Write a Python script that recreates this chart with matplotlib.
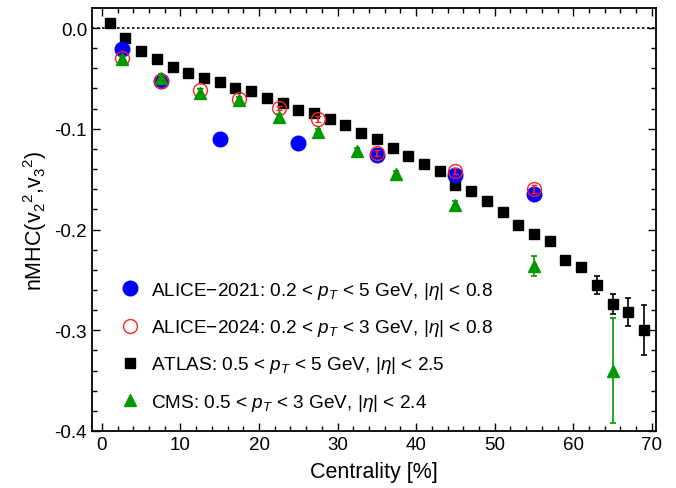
import matplotlib
matplotlib.use('Agg')
import matplotlib.pyplot as plt
from matplotlib.ticker import MultipleLocator, FormatStrFormatter
from matplotlib.lines import Line2D

plt.rcParams['font.family'] = ['Liberation Sans', 'DejaVu Sans']
plt.rcParams['mathtext.fontset'] = 'custom'
plt.rcParams['mathtext.rm'] = 'Liberation Sans'
plt.rcParams['mathtext.it'] = 'Liberation Sans:italic'

# dane
atlas_x = [1, 3, 5, 7, 9, 11, 13, 15, 17, 19, 21, 23, 25, 27, 29, 31, 33, 35,
           37, 39, 41, 43, 45, 47, 49, 51, 53, 55, 57, 59, 61, 63, 65, 67, 69]
atlas_y = [0.005, -0.010, -0.023, -0.031, -0.039, -0.045, -0.050, -0.054, -0.060,
           -0.063, -0.069, -0.074, -0.081, -0.084, -0.090, -0.096, -0.104, -0.110,
           -0.119, -0.127, -0.135, -0.142, -0.156, -0.162, -0.172, -0.183, -0.196,
           -0.204, -0.211, -0.230, -0.237, -0.255, -0.274, -0.282, -0.300]
atlas_err = [0.001] * 29 + [0.002, 0.003, 0.009, 0.010, 0.014, 0.025]

alice21_x = [2.5, 7.5, 15, 25, 35, 45, 55]
alice21_y = [-0.021, -0.053, -0.110, -0.114, -0.126, -0.146, -0.165]

alice24_x = [2.5, 7.5, 12.5, 17.5, 22.5, 27.5, 35, 45, 55]
alice24_y = [-0.030, -0.053, -0.062, -0.070, -0.079, -0.090, -0.124, -0.142, -0.160]
alice24_err = [0.002, 0.002, 0.002, 0.002, 0.002, 0.003, 0.003, 0.003, 0.004]

cms_x = [2.5, 7.5, 12.5, 17.5, 22.5, 27.5, 32.5, 37.5, 45, 55, 65]
cms_y = [-0.031, -0.050, -0.064, -0.071, -0.088, -0.103, -0.122, -0.145, -0.176, -0.236, -0.340]
cms_err = [0.003, 0.004, 0.003, 0.003, 0.003, 0.003, 0.003, 0.003, 0.004, 0.010, 0.052]

green = '#009a00'
red = '#ff2020'

fig = plt.figure(figsize=(6.76, 4.89), dpi=100)
ax = fig.add_axes([0.136, 0.1166, 0.834, 0.864])

ax.axhline(0, color='black', linestyle=(0, (1.5, 1.5)), lw=1.2, zorder=1)

ax.errorbar(atlas_x, atlas_y, yerr=atlas_err, fmt='s', color='black', ms=7.5,
            capsize=2.5, elinewidth=1.2, capthick=1.2, zorder=2)
ax.plot(alice21_x, alice21_y, 'o', color='blue', ms=10.5, zorder=3)
ax.errorbar(alice24_x, alice24_y, yerr=alice24_err, fmt='o', mfc='none', mec=red,
            ecolor=red, ms=10, mew=1.0, capsize=2, elinewidth=1.2, zorder=4)
ax.errorbar(cms_x, cms_y, yerr=cms_err, fmt='^', color=green, ms=8.5,
            capsize=2.5, elinewidth=1.2, capthick=1.2, zorder=5)

# os i wyglad
ax.set_xlim(-1.27, 70.5)
ax.set_ylim(-0.4, 0.0194)
ax.xaxis.set_major_locator(MultipleLocator(10))
ax.xaxis.set_minor_locator(MultipleLocator(2))
ax.yaxis.set_major_locator(MultipleLocator(0.1))
ax.yaxis.set_minor_locator(MultipleLocator(0.02))
ax.yaxis.set_major_formatter(FormatStrFormatter('%.1f'))
ax.tick_params(which='both', direction='in', top=True, right=True,
               labeltop=False, labelright=False, width=1.0, labelsize=13.5)
ax.tick_params(which='major', length=6)
ax.tick_params(which='minor', length=3.5)
for s in ax.spines.values():
    s.set_linewidth(1.3)

ax.set_xlabel('Centrality [%]', fontsize=15.5, labelpad=6)
ax.set_ylabel(r'nMHC(v$_2$$^2$,v$_3$$^2$)', fontsize=15.5, labelpad=4)

handles = [
    Line2D([], [], ls='none', marker='o', color='blue', ms=10.5),
    Line2D([], [], ls='none', marker='o', mfc='none', mec=red, ms=10),
    Line2D([], [], ls='none', marker='s', color='black', ms=7.5),
    Line2D([], [], ls='none', marker='^', color=green, ms=8.5),
]
labels = [
    r'ALICE$-$2021: 0.2 < $p_T$ < 5 GeV, |$\eta$| < 0.8',
    r'ALICE$-$2024: 0.2 < $p_T$ < 3 GeV, |$\eta$| < 0.8',
    r'ATLAS: 0.5 < $p_T$ < 5 GeV, |$\eta$| < 2.5',
    r'CMS: 0.5 < $p_T$ < 3 GeV, |$\eta$| < 2.4',
]
ax.legend(handles, labels, loc='lower left', bbox_to_anchor=(0.0165, 0.003),
          frameon=False, fontsize=13.7, labelspacing=0.85, handlelength=1.2,
          handletextpad=0.53)

fig.savefig('out.png', dpi=100)
plt.close()
